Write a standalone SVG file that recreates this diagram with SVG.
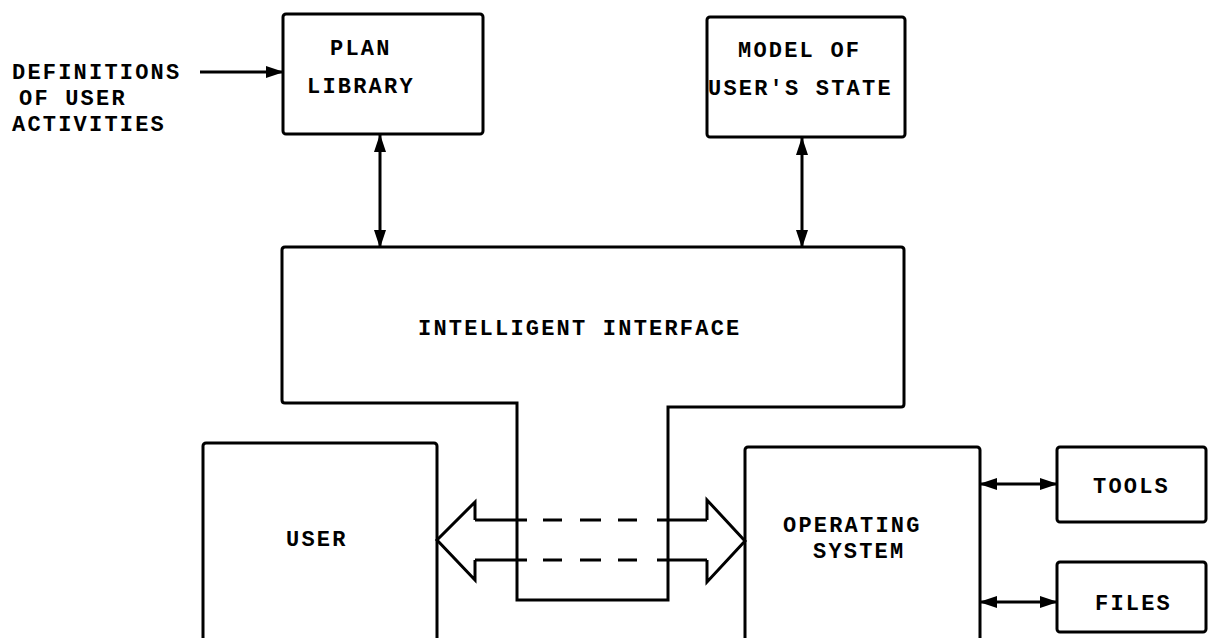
<svg xmlns="http://www.w3.org/2000/svg" width="1213" height="638" viewBox="0 0 1213 638">
<style>
.box{fill:none;stroke:#000;stroke-width:3;}
.ln{fill:none;stroke:#000;stroke-width:3;}
.t{font-family:"Liberation Mono","Courier New",monospace;font-weight:bold;font-size:22px;letter-spacing:2.2px;fill:#000;}
</style>
<defs>
<marker id="ah" viewBox="0 0 18 12" refX="17" refY="6" markerWidth="18" markerHeight="12" markerUnits="userSpaceOnUse" orient="auto-start-reverse">
<path d="M0,0 L18,6 L0,12 z" fill="#000"/>
</marker>
</defs>
<rect width="1213" height="638" fill="#fff"/>
<g id="definitions">
<text class="t" x="12" y="79">DEFINITIONS</text>
<text class="t" x="19" y="105">OF USER</text>
<text class="t" x="12" y="131">ACTIVITIES</text>
</g>
<g id="plan-library">
<rect class="box" x="283" y="14" width="200" height="120" rx="3"/>
<text class="t" x="330" y="55">PLAN</text>
<text class="t" x="307" y="93">LIBRARY</text>
</g>
<g id="model-user-state">
<rect class="box" x="707" y="17" width="198" height="120" rx="3"/>
<text class="t" x="738" y="57">MODEL OF</text>
<text class="t" x="708" y="95">USER'S STATE</text>
</g>
<g id="intelligent-interface">
<path class="box" d="M285,247 H901 Q904,247 904,250 V404 Q904,407 901,407 H668 V600 H517 V403 H285 Q282,403 282,400 V250 Q282,247 285,247 Z"/>
<text class="t" x="418" y="335">INTELLIGENT INTERFACE</text>
</g>
<g id="user">
<rect class="box" x="203" y="443" width="234" height="210" rx="3"/>
<text class="t" x="286" y="546">USER</text>
</g>
<g id="operating-system">
<rect class="box" x="745" y="447" width="235" height="210" rx="3"/>
<text class="t" x="783" y="532">OPERATING</text>
<text class="t" x="813" y="558">SYSTEM</text>
</g>
<g id="tools">
<rect class="box" x="1057" y="447" width="149" height="75" rx="3"/>
<text class="t" x="1093" y="493">TOOLS</text>
</g>
<g id="files">
<rect class="box" x="1057" y="562" width="149" height="70" rx="3"/>
<text class="t" x="1095" y="610">FILES</text>
</g>
<g id="connectors">
<line class="ln" x1="200" y1="72" x2="283" y2="72" marker-end="url(#ah)"/>
<line class="ln" x1="380" y1="135" x2="380" y2="247" marker-start="url(#ah)" marker-end="url(#ah)"/>
<line class="ln" x1="802" y1="138" x2="802" y2="247" marker-start="url(#ah)" marker-end="url(#ah)"/>
<line class="ln" x1="980" y1="484" x2="1057" y2="484" marker-start="url(#ah)" marker-end="url(#ah)"/>
<line class="ln" x1="980" y1="602" x2="1057" y2="602" marker-start="url(#ah)" marker-end="url(#ah)"/>
<path class="ln" d="M475,520 V502 L437,540 L475,580 V560"/>
<path class="ln" d="M707,520 V500 L745,541 L707,582 V560"/>
<path class="ln" d="M475,520 H527 M543,520 H562 M580,520 H601 M618,520 H637 M657,520 H707"/>
<path class="ln" d="M475,560 H527 M543,560 H562 M580,560 H601 M618,560 H637 M657,560 H707"/>
</g>
</svg>
